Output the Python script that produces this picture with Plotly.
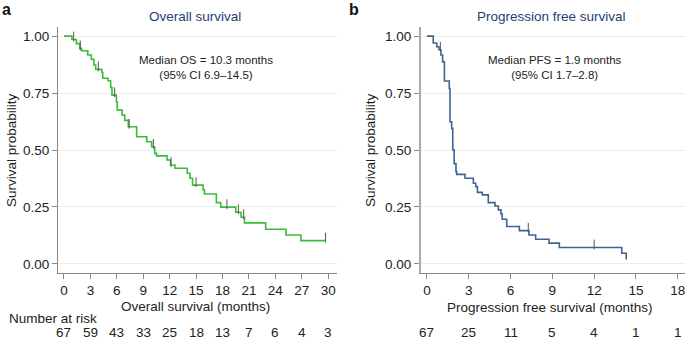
import plotly.graph_objects as go

# ---------------- data ----------------
os_times = [0, 0.9, 1.4, 1.8, 2.0, 2.7, 3.1, 3.4, 3.6, 4.3, 4.4, 5.0, 5.3, 5.45, 5.95, 6.05,
            6.6, 6.9, 7.3, 8.25, 9.4, 9.95, 10.3, 10.5, 11.7, 12.1, 12.6, 14.0, 14.3, 14.6,
            15.8, 15.95, 17.3, 17.8, 19.5, 20.1, 20.5, 22.9, 25.2, 26.9, 29.7]
os_surv = [1.0, 0.985, 0.967, 0.946, 0.936, 0.917, 0.898, 0.873, 0.854, 0.84, 0.815, 0.804,
           0.775, 0.741, 0.712, 0.675, 0.653, 0.63, 0.602, 0.558, 0.536, 0.514, 0.485, 0.474,
           0.456, 0.434, 0.42, 0.398, 0.376, 0.346, 0.325, 0.307, 0.269, 0.249, 0.227, 0.205,
           0.18, 0.152, 0.127, 0.102, 0.102]
os_censor = [1.1, 1.85, 3.9, 5.75, 7.4, 10.15, 12.15, 15.0, 18.5, 19.8, 20.4, 29.7]

pfs_times = [0, 0.45, 0.7, 0.86, 1.0, 1.12, 1.25, 1.6, 1.65, 1.77, 1.85, 1.95, 2.08, 2.13,
             2.73, 3.33, 3.5, 3.62, 3.97, 4.4, 4.88, 5.12, 5.31, 5.4, 5.72, 6.63, 7.32, 7.8,
             8.76, 9.5, 13.98, 14.3, 14.35]
pfs_surv = [1.0, 0.97, 0.953, 0.94, 0.917, 0.887, 0.803, 0.77, 0.624, 0.595, 0.5, 0.44,
            0.405, 0.393, 0.376, 0.354, 0.339, 0.314, 0.303, 0.269, 0.254, 0.237, 0.219,
            0.196, 0.164, 0.146, 0.127, 0.108, 0.091, 0.072, 0.047, 0.023, 0.023]
pfs_censor = [0.96, 7.27, 12.0]

os_ticks = [0, 3, 6, 9, 12, 15, 18, 21, 24, 27, 30]
os_risk = [67, 59, 43, 33, 25, 18, 13, 7, 6, 4, 3]
pfs_ticks = [0, 3, 6, 9, 12, 15, 18]
pfs_risk = [67, 25, 11, 5, 4, 1, 1]
y_ticks = [0, 0.25, 0.5, 0.75, 1.0]
y_ticklabels = ["0.00", "0.25", "0.50", "0.75", "1.00"]


def step_value(times, surv, t):
    val = surv[0]
    for ti, si in zip(times, surv):
        if ti <= t:
            val = si
    return val


W, H = 685, 339
FONT = "Liberation Sans, Arial, Helvetica, sans-serif"
TXT = "#222222"
NAVY = "#233f72"
GREEN = "#3dbb3d"
BLUE = "#3d6594"
GRID = "#e6eff0"


def px(xp):
    return xp / W


def py(yp):
    return 1 - yp / H


fig = go.Figure()

fig.add_trace(go.Scatter(x=os_times, y=os_surv, mode="lines", line=dict(color=GREEN, width=1.6, shape="hv"),
                         xaxis="x", yaxis="y", showlegend=False, hoverinfo="skip"))
fig.add_trace(go.Scatter(x=os_censor, y=[step_value(os_times, os_surv, t) + 0.013 for t in os_censor],
                         mode="markers", marker=dict(symbol="line-ns-open", size=7, color="#555555",
                                                     line=dict(color="#555555", width=1)),
                         xaxis="x", yaxis="y", showlegend=False, hoverinfo="skip"))
fig.add_trace(go.Scatter(x=pfs_times, y=pfs_surv, mode="lines", line=dict(color=BLUE, width=1.6, shape="hv"),
                         xaxis="x2", yaxis="y2", showlegend=False, hoverinfo="skip"))
fig.add_trace(go.Scatter(x=pfs_censor, y=[step_value(pfs_times, pfs_surv, t) + 0.013 for t in pfs_censor],
                         mode="markers", marker=dict(symbol="line-ns-open", size=7, color="#555555",
                                                     line=dict(color="#555555", width=1)),
                         xaxis="x2", yaxis="y2", showlegend=False, hoverinfo="skip"))

ydom = [py(273), py(27)]
common_x = dict(showgrid=False, zeroline=False, showline=True, linecolor="#888888", linewidth=1,
                ticks="outside", ticklen=5, tickcolor="#888888", tickwidth=1, ticklabeloverflow="allow",
                tickfont=dict(family=FONT, size=13.5, color=TXT), fixedrange=True)
common_y = dict(showgrid=True, gridcolor=GRID, gridwidth=1, zeroline=False, showline=True,
                ticks="outside", ticklen=5, tickcolor="#888888", tickwidth=1,
                tickvals=y_ticks, ticktext=y_ticklabels, range=[-0.04, 1.04],
                tickfont=dict(family=FONT, size=13.5, color=TXT), fixedrange=True, domain=ydom)

fig.update_layout(
    width=W, height=H, margin=dict(l=0, r=0, t=0, b=0),
    paper_bgcolor="white", plot_bgcolor="white",
    xaxis=dict(domain=[px(58), px(337)], range=[-0.68, 31.0], tickvals=os_ticks, anchor="y", **common_x),
    yaxis=dict(anchor="x", linecolor="#888888", linewidth=1, **common_y),
    xaxis2=dict(domain=[px(421), 1.0], range=[-0.43, 18.52], tickvals=pfs_ticks, anchor="y2", **common_x),
    yaxis2=dict(anchor="x2", linecolor="#aaaaaa", linewidth=2, **common_y),
)

ann = []
# panel letters
ann.append(dict(text="<b>a</b>", x=px(0), y=py(9), xanchor="left", yanchor="middle", showarrow=False,
                font=dict(family=FONT, size=16, color="#111111"), xref="paper", yref="paper"))
ann.append(dict(text="<b>b</b>", x=px(347), y=py(9), xanchor="left", yanchor="middle", showarrow=False,
                font=dict(family=FONT, size=16, color="#111111"), xref="paper", yref="paper"))
# titles
ann.append(dict(text="Overall survival", x=px(195), y=py(16), xanchor="center", yanchor="middle",
                showarrow=False, font=dict(family=FONT, size=13.5, color=NAVY), xref="paper", yref="paper"))
ann.append(dict(text="Progression free survival", x=px(551), y=py(16), xanchor="center", yanchor="middle",
                showarrow=False, font=dict(family=FONT, size=13.5, color=NAVY), xref="paper", yref="paper"))
# medians
ann.append(dict(text="Median OS = 10.3 months<br>(95% CI 6.9–14.5)", x=px(206), y=py(67),
                xanchor="center", yanchor="middle", showarrow=False, align="center",
                font=dict(family=FONT, size=11.5, color=TXT), xref="paper", yref="paper"))
ann.append(dict(text="Median PFS = 1.9 months<br>(95% CI 1.7–2.8)", x=px(555), y=py(67),
                xanchor="center", yanchor="middle", showarrow=False, align="center",
                font=dict(family=FONT, size=11.5, color=TXT), xref="paper", yref="paper"))
# axis titles
ann.append(dict(text="Overall survival (months)", x=px(196), y=py(306), xanchor="center", yanchor="middle",
                showarrow=False, font=dict(family=FONT, size=13.5, color=TXT), xref="paper", yref="paper"))
ann.append(dict(text="Progression free survival (months)", x=px(550), y=py(307), xanchor="center",
                yanchor="middle", showarrow=False, font=dict(family=FONT, size=13.5, color=TXT),
                xref="paper", yref="paper"))
ann.append(dict(text="Survival probability", x=px(11), y=py(150), xanchor="center", yanchor="middle",
                textangle=-90, showarrow=False, font=dict(family=FONT, size=13.5, color=TXT),
                xref="paper", yref="paper"))
ann.append(dict(text="Survival probability", x=px(370), y=py(150), xanchor="center", yanchor="middle",
                textangle=-90, showarrow=False, font=dict(family=FONT, size=13.5, color=TXT),
                xref="paper", yref="paper"))
ann.append(dict(text="Number at risk", x=px(7), y=py(318), xanchor="left", yanchor="middle",
                showarrow=False, font=dict(family=FONT, size=13.5, color=TXT), xref="paper", yref="paper"))
# risk tables
for t, n in zip(os_ticks, os_risk):
    ann.append(dict(text=str(n), x=t, y=py(332), xref="x", yref="paper", xanchor="center", yanchor="middle",
                    showarrow=False, font=dict(family=FONT, size=13.5, color=TXT)))
for t, n in zip(pfs_ticks, pfs_risk):
    ann.append(dict(text=str(n), x=t, y=py(332), xref="x2", yref="paper", xanchor="center", yanchor="middle",
                    showarrow=False, font=dict(family=FONT, size=13.5, color=TXT)))

fig.update_layout(annotations=ann)
fig.write_html("out.html", config={"displayModeBar": False},
               post_script="document.body.style.margin='0';document.body.style.padding='0';"
                           "document.body.style.overflow='hidden';")
